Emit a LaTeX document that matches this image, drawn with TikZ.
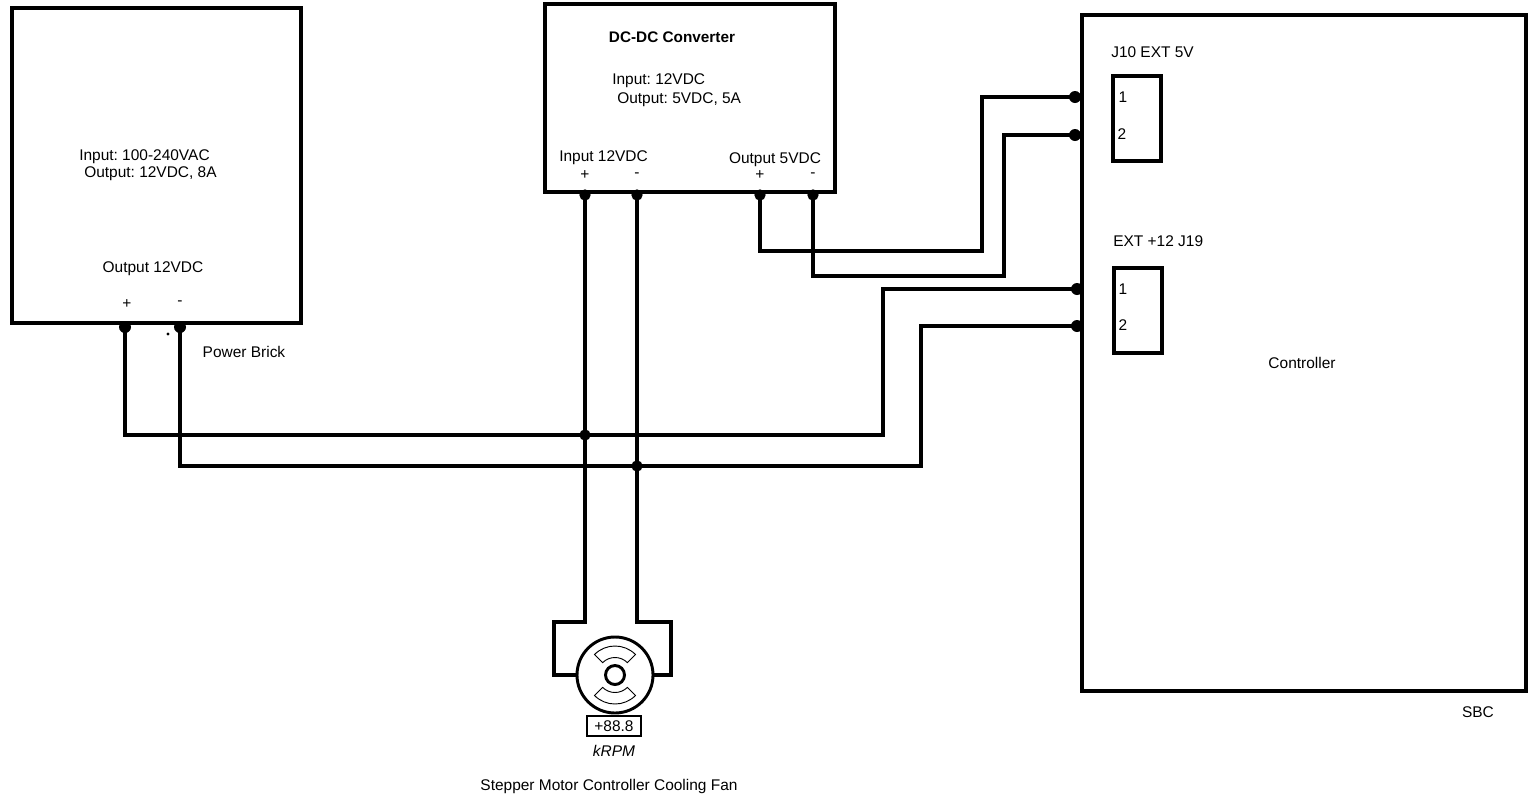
\documentclass[tikz,border=0pt]{standalone}
\usepackage{fontspec}
\setmainfont{Liberation Sans}
\usetikzlibrary{calc}
\tikzset{
  box/.style={draw=black, line width=2.3pt, inner sep=0},
  wire/.style={black, line width=2.3pt, line join=miter},
  joint/.style={circle, fill=black, inner sep=0, minimum size=9pt},
  tapdot/.style={circle, fill=black, inner sep=0, minimum size=8.5pt},
  lbl/.style={font=\fontsize{11.6}{14}\selectfont, inner sep=0},
}
\begin{document}
\begin{tikzpicture} [x=.75pt, y=-.75pt]
\frenchspacing
\useasboundingbox (0,0) rectangle (1528,797);
\fill[white] (0,0) rectangle (1528,797);
% boxes
\draw[box] (12,8) rectangle (301,323);
\draw[box] (545,4) rectangle (835,192);
\draw[box] (1082,15) rectangle (1526,691);
\draw[box] (1113,76) rectangle (1161,161);
\draw[box] (1114,268) rectangle (1162,353);
% pins
\node[joint] (brickplus) at (125,327) {};
\node[joint] (brickminus) at (180,327) {};
\node[tapdot] (inplus) at (585,195) {};
\node[tapdot] (inminus) at (637,195) {};
\node[tapdot] (outplus) at (760,195) {};
\node[tapdot] (outminus) at (813,195) {};
\node[joint] (jten1) at (1075,97) {};
\node[joint] (jten2) at (1075,135) {};
\node[joint] (jnine1) at (1077,289) {};
\node[joint] (jnine2) at (1077,326) {};
\node[tapdot] (tapplus) at (585,435) {};
\node[tapdot] (tapminus) at (637,466) {};
\fill[black] (168,334) circle (1.2pt);
% fan
\node[draw, circle, line width=2.2pt, minimum size=76*.75pt, inner sep=0] (fan) at (615,675) {};
\node[draw, circle, line width=2.2pt, minimum size=19*.75pt, inner sep=0] (hub) at (fan.center) {};
\foreach \a in {90, 270} {
 \draw[black, line width=.7pt] (fan.center) ++(\a-45:29*.75pt) arc[start angle=\a-45, end angle=\a+45, radius=29*.75pt]
   -- ($(fan.center)+(\a+45:17.5*.75pt)$) arc[start angle=\a+45, end angle=\a-45, radius=17.5*.75pt] -- cycle;
}
\node[draw, line width=1pt, minimum width=54*.75pt, minimum height=20*.75pt, lbl] (readout) at (614,726) {+88.8};
% wires
\draw[wire] (brickplus.center) |- (tapplus.center) -| (883,289) -- (jnine1.center);
\draw[wire] (brickminus.center) |- (tapminus.center) -| (921,326) -- (jnine2.center);
\draw[wire] (outplus.center) |- (982,251) |- (jten1.center);
\draw[wire] (outminus.center) |- (1004,276) |- (jten2.center);
\draw[wire] (inplus.center) -- (585,622) -| (554,675) -- (fan.west);
\draw[wire] (inminus.center) -- (637,622) -| (671,675) -- (fan.east);
% labels
\node[lbl, anchor=west] (brickin) at (79,157) {Input: 100-240VAC};
\node[lbl, anchor=west] (brickout) at (84,174) {Output: 12VDC, 8A};
\node[lbl] (brickv) at (153,269) {Output 12VDC};
\node[lbl] (brickp) at (127,304) {+};
\node[lbl] (brickm) at (180,303) {-};
\node[lbl] (brickname) at (244,352) {Power Brick};
\node[lbl, font=\fontsize{11.5}{14}\selectfont\bfseries] (convname) at (672,37) {DC-DC Converter};
\node[lbl, anchor=west] (convin) at (612,81) {Input: 12VDC};
\node[lbl, anchor=west] (convout) at (617,100) {Output: 5VDC, 5A};
\node[lbl, anchor=west] (inv) at (559,158) {Input 12VDC};
\node[lbl] (outv) at (775,160) {Output 5VDC};
\node[lbl] (inp) at (585,175) {+};
\node[lbl] (inm) at (637,175) {-};
\node[lbl] (outp) at (760,175) {+};
\node[lbl] (outm) at (813,175) {-};
\node[lbl, anchor=west] (jtenname) at (1111,52) {J10 EXT 5V};
\node[lbl] (jtenA) at (1123,97) {1};
\node[lbl] (jtenB) at (1122,134) {2};
\node[lbl, anchor=west] (jninename) at (1113,241) {EXT +12 J19};
\node[lbl] (jnineA) at (1123,289) {1};
\node[lbl] (jnineB) at (1123,325) {2};
\node[lbl] (ctrl) at (1302,363) {Controller};
\node[lbl] (sbc) at (1478,712) {SBC};
\node[lbl, font=\fontsize{11.6}{14}\selectfont\itshape] (krpm) at (614,751) {kRPM};
\node[lbl] (fanname) at (609,786) {Stepper Motor Controller Cooling Fan};
\end{tikzpicture}
\end{document}
